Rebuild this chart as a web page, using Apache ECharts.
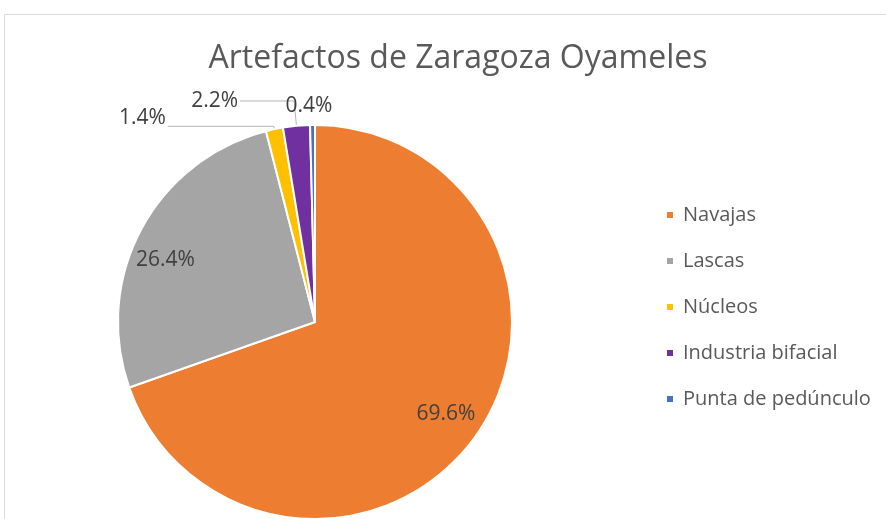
<!DOCTYPE html>
<html>
<head>
<meta charset="utf-8">
<script src="https://cdn.jsdelivr.net/npm/echarts@6/dist/echarts.min.js"></script>
<style>
  html, body { margin: 0; padding: 0; background: #fff; }
  #chart { width: 886px; height: 519px; }
</style>
</head>
<body>
<div id="chart"></div>
<script>
const categories = ['Navajas', 'Lascas', 'Núcleos', 'Industria bifacial', 'Punta de pedúnculo']
const percents = [69.6, 26.4, 1.4, 2.2, 0.4]
const colors = ['#ED7D31', '#A5A5A5', '#FFC000', '#7030A0', '#4472C4']

// label placement per slice (Excel "best fit" look)
const labelSettings = [
  {position: 'inside', offset: [48, 33]},
  {position: 'inside', offset: [-60, -14]},
  {position: 'outside', len: 3, len2: 106, offset: [0, -8]},
  {position: 'outside', len: 25, len2: 54},
  {position: 'outside', len: 10, len2: 0, noLine: true, offset: [22, -9]}
]

const chart = echarts.init(document.getElementById('chart'))

const font = '"Open Sans", "Noto Sans", sans-serif'

const option = {
  textStyle: {fontFamily: font},
  graphic: [{
    type: 'rect',
    shape: {x: 4.5, y: 14.5, width: 900, height: 600},
    style: {fill: 'none', stroke: '#d9d9d9', lineWidth: 1}
  }],
  title: {
    text: 'Artefactos de Zaragoza Oyameles',
    left: 453,
    top: 38,
    textAlign: 'center',
    textStyle: {fontFamily: font, fontSize: 32, fontWeight: 'normal', color: '#595959'}
  },
  legend: {
    orient: 'vertical',
    left: 660,
    top: 200,
    itemWidth: 8,
    itemHeight: 8,
    itemGap: 26,
    icon: 'rect',
    textStyle: {fontFamily: font, fontSize: 20, color: '#595959', padding: [0, 0, 0, 4]},
    data: categories
  },
  series: [{
    type: 'pie',
    center: [315, 322],
    radius: 197,
    startAngle: 90,
    clockwise: true,
    avoidLabelOverlap: false,
    itemStyle: {borderColor: '#fff', borderWidth: 2},
    label: {
      formatter: p => p.value.toFixed(1) + '%',
      fontFamily: font,
      fontSize: 21,
      color: '#404040'
    },
    labelLine: {lineStyle: {color: '#b4b4b4', width: 1}},
    data: categories.map((name, i) => {
      const s = labelSettings[i]
      const item = {
        name: name,
        value: percents[i],
        itemStyle: {color: colors[i]},
        label: {position: s.position}
      }
      if (s.offset) item.label.offset = s.offset
      if (s.position === 'outside') {
        item.labelLine = {show: !s.noLine, length: s.len, length2: s.len2}
        item.label.distanceToLabelLine = 2
      }
      return item
    })
  }]
}

chart.setOption(option)
</script>
</body>
</html>
